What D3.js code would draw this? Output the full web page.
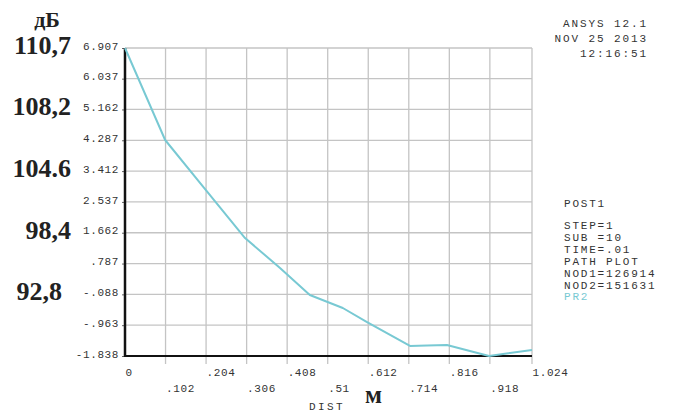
<!DOCTYPE html>
<html>
<head>
<meta charset="utf-8">
<script src="https://cdn.jsdelivr.net/npm/d3@7"></script>
<style>
  body { margin: 0; background: #fff; }
  svg { display: block; }
</style>
</head>
<body>
<svg id="chart"></svg>
<script>
// path plot values (DIST in m, PR2)
const pathDist = [0, .101, .201, .302, .390, .465, .548, .609, .717, .760, .810, .916, 1.024];
const pathPr2 = [6.907, 4.295, 2.904, 1.512, .661, -.106, -.475, -.873, -1.554, -1.540, -1.526, -1.838, -1.668];

const distTicks = [0, .102, .204, .306, .408, .51, .612, .714, .816, .918, 1.024];
const distLabels = ["0", ".102", ".204", ".306", ".408", ".51", ".612", ".714", ".816", ".918", "1.024"];
const prTicks = [6.907, 6.037, 5.162, 4.287, 3.412, 2.537, 1.662, .787, -.088, -.963, -1.838];
const prLabels = ["6.907", "6.037", "5.162", "4.287", "3.412", "2.537", "1.662", ".787", "-.088", "-.963", "-1.838"];

const dbLabels = ["110,7", "108,2", "104.6", "98,4", "92,8"];
const dbAt = [6.907, 5.162, 3.412, 1.662, -.088];

const stampLines = ["ANSYS 12.1", "NOV 25 2013", "12:16:51"];
const infoLines = ["STEP=1", "SUB =10", "TIME=.01", "PATH PLOT", "NOD1=126914", "NOD2=151631"];

const W = 673, H = 419;
const plot = {left: 125, right: 532, top: 48, bottom: 356};
const mono = "'Liberation Mono', 'Courier New', monospace";
const serif = "'Liberation Serif', 'Times New Roman', serif";
const lineColor = "#78c9d3";

const svg = d3.select("#chart").attr("width", W).attr("height", H);

const x = d3.scaleLinear().domain([0, 1.024]).range([plot.left, plot.right]);
const y = d3.scaleLinear().domain([-1.838, 6.907]).range([plot.bottom, plot.top]);

// grid
svg.append("g")
  .selectAll("line")
  .data(prTicks)
  .enter()
  .append("line")
  .attr("x1", plot.left).attr("x2", plot.right)
  .attr("y1", d => y(d)).attr("y2", d => y(d))
  .attr("stroke", "#c4c4c4").attr("stroke-width", 1.3);

svg.append("g")
  .selectAll("line")
  .data(distTicks.slice(1))
  .enter()
  .append("line")
  .attr("x1", d => x(d)).attr("x2", d => x(d))
  .attr("y1", plot.top).attr("y2", plot.bottom + 8)
  .attr("stroke", "#c4c4c4").attr("stroke-width", 1.3);

// y axis labels
const yAxis = svg.append("g")
  .attr("transform", `translate(${plot.left}, 0)`)
  .call(d3.axisLeft(y).tickValues(prTicks).tickFormat((d, i) => prLabels[i]).tickSize(3).tickPadding(3));
yAxis.select(".domain").remove();
yAxis.selectAll(".tick line").attr("stroke", "#666");
yAxis.selectAll(".tick text")
  .attr("font-family", mono).attr("font-size", 11).attr("letter-spacing", 0.6)
  .attr("fill", "#333")
  .attr("dy", "0.1em");

// x axis labels, staggered
const xAxis = svg.append("g")
  .attr("transform", `translate(0, ${plot.bottom})`)
  .call(d3.axisBottom(x).tickValues(distTicks).tickFormat((d, i) => distLabels[i]).tickSize(0));
xAxis.select(".domain").remove();
xAxis.selectAll(".tick text")
  .attr("font-family", mono).attr("font-size", 11).attr("letter-spacing", 0.6)
  .attr("fill", "#333")
  .attr("text-anchor", "start")
  .attr("dy", null)
  .attr("y", (d, i) => i % 2 === 0 ? 20 : 36);

// axes lines
svg.append("line")
  .attr("x1", plot.left).attr("x2", plot.left)
  .attr("y1", plot.top).attr("y2", plot.bottom + 1)
  .attr("stroke", "#111").attr("stroke-width", 2.5);
svg.append("line")
  .attr("x1", plot.left).attr("x2", plot.right)
  .attr("y1", plot.bottom).attr("y2", plot.bottom)
  .attr("stroke", "#111").attr("stroke-width", 2);

// curve
svg.append("path")
  .datum(pathDist.map((d, i) => [d, pathPr2[i]]))
  .attr("fill", "none")
  .attr("stroke", lineColor)
  .attr("stroke-width", 2)
  .attr("stroke-linejoin", "round")
  .attr("d", d3.line().x(d => x(d[0])).y(d => y(d[1])));

// axis title
svg.append("text")
  .attr("x", 309).attr("y", 410)
  .attr("font-family", mono).attr("font-size", 11).attr("letter-spacing", 2.4)
  .attr("fill", "#333")
  .text("DIST");
svg.append("text")
  .attr("x", 365).attr("y", 403)
  .attr("font-family", serif).attr("font-weight", "bold").attr("font-size", 25)
  .attr("fill", "#222")
  .text("м");

// dB scale on the left
svg.append("text")
  .attr("x", 47).attr("y", 27)
  .attr("text-anchor", "middle")
  .attr("font-family", serif).attr("font-weight", "bold").attr("font-size", 22)
  .attr("fill", "#222")
  .text("дБ");
svg.append("g")
  .selectAll("text")
  .data(dbLabels)
  .enter()
  .append("text")
  .attr("x", (d, i) => i === dbLabels.length - 1 ? 62 : 71)
  .attr("y", (d, i) => y(dbAt[i]) + 6)
  .attr("text-anchor", "end")
  .attr("font-family", serif).attr("font-weight", "bold").attr("font-size", 26)
  .attr("fill", "#222")
  .text(d => d);

// stamp top right
svg.append("g")
  .selectAll("text")
  .data(stampLines)
  .enter()
  .append("text")
  .attr("x", 648)
  .attr("y", (d, i) => 27 + i * 15)
  .attr("text-anchor", "end")
  .attr("font-family", mono).attr("font-size", 11).attr("letter-spacing", 1.9)
  .attr("fill", "#333")
  .text(d => d);

// info block
svg.append("text")
  .attr("x", 564).attr("y", 207)
  .attr("font-family", mono).attr("font-size", 11).attr("letter-spacing", 1.8)
  .attr("fill", "#333")
  .text("POST1");
svg.append("g")
  .selectAll("text")
  .data(infoLines)
  .enter()
  .append("text")
  .attr("x", 564)
  .attr("y", (d, i) => 229 + i * 11.9)
  .attr("font-family", mono).attr("font-size", 11).attr("letter-spacing", 1.8)
  .attr("fill", "#333")
  .text(d => d);
svg.append("text")
  .attr("x", 564).attr("y", 229 + infoLines.length * 11.9)
  .attr("font-family", mono).attr("font-size", 11).attr("letter-spacing", 1.8)
  .attr("fill", lineColor)
  .text("PR2");
</script>
</body>
</html>
